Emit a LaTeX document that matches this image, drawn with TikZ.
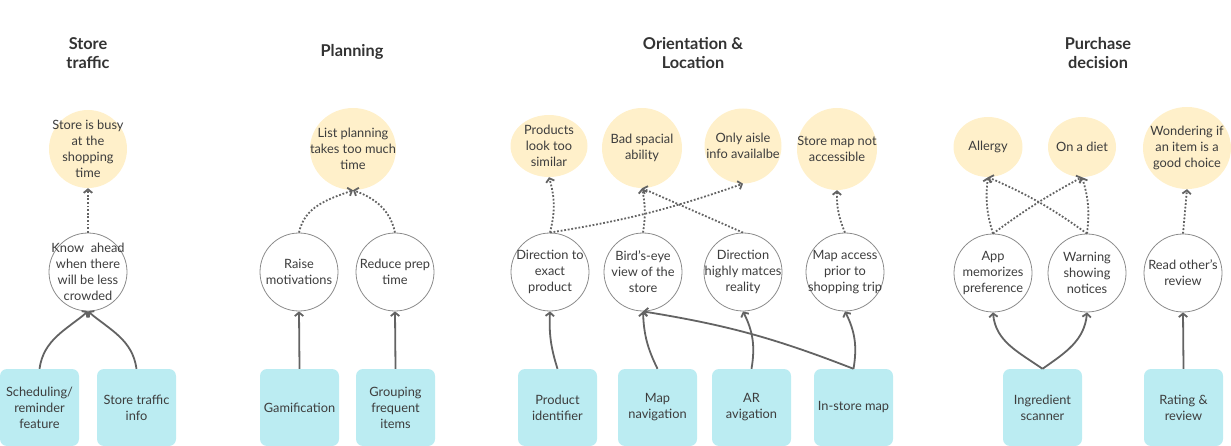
\documentclass[tikz,border=0pt]{standalone}
\usepackage{fontspec}
\setmainfont{Lato}
\usepackage{tikz}
\usetikzlibrary{%
  shapes.geometric,%
  arrows.meta%
}
\definecolor{painfill}{HTML}{FFF0CA}
\definecolor{featfill}{HTML}{BBECF2}
\definecolor{ringcol}{HTML}{8C8C8C}
\definecolor{linkcol}{HTML}{636363}
\definecolor{txtcol}{HTML}{3D3D3D}
\definecolor{titlecol}{HTML}{333333}

\begin{document}
\begin{tikzpicture}[
    x=1pt, y=-1pt,
    title/.style={align=center, text=titlecol, font=\bfseries\fontsize{16.3}{18.5}\selectfont},
    inner/.style={align=center, text=txtcol, font=\fontsize{12.8}{16}\selectfont},
    pain/.style={ellipse, fill=painfill, inner sep=0pt, minimum width=80pt, minimum height=80pt},
    need/.style={circle, draw=ringcol, line width=0.8pt, fill=white, inner sep=0pt, minimum size=78pt},
    feat/.style={rectangle, rounded corners=7pt, fill=featfill, inner sep=0pt, minimum width=79pt,
        minimum height=77pt, align=center, text=txtcol, font=\fontsize{12.8}{16}\selectfont},
    link/.style={draw=linkcol, line width=1.8pt, -{Straight Barb[length=3.5pt,width=8.5pt]}},
    hint/.style={link, dash pattern=on 1.8pt off 1.8pt}
]
    \useasboundingbox (0,0) rectangle (1231,446);
    \node[title] (tst) at (88,53) {Store\\traffic};
    \node[title] (tpl) at (352,52) {Planning};
    \node[title] (tor) at (693,53) {Orientation \&\\Location};
    \node[title] (tpu) at (1098,53) {Purchase\\decision};

    \node[pain, minimum width=78pt, minimum height=78pt, label={[inner]center:Store is busy\\at the\\shopping\\time}] (p1) at (88,149) {};
    \node[pain, minimum width=86pt, minimum height=82pt, label={[inner]center:List planning\\takes too much\\time}] (p2) at (353,149) {};
    \node[pain, minimum width=77pt, minimum height=62pt, label={[inner]center:Products\\look too\\similar}] (p3) at (549,146) {};
    \node[pain, label={[inner]center:Bad spacial\\ability}] (p4) at (642,148) {};
    \node[pain, minimum width=77pt, minimum height=75pt, label={[inner]center:Only aisle\\info availalbe}] (p5) at (743,146) {};
    \node[pain, minimum height=82pt, label={[inner]center:Store map not\\accessible}] (p6) at (837,149) {};
    \node[pain, minimum width=69pt, minimum height=60pt, label={[inner]center:Allergy}] (p7) at (988,147) {};
    \node[pain, minimum width=68pt, minimum height=60pt, label={[inner]center:On a diet}] (p8) at (1082,147) {};
    \node[pain, minimum width=88pt, minimum height=82pt, label={[inner]center:Wondering if\\an item is a\\good choice}] (p9) at (1187,148) {};

    \node[need, label={[inner]center:Know~ ahead\\when there\\will be less\\crowded}] (n1) at (88,272) {};
    \node[need, label={[inner]center:Raise\\motivations}] (n2) at (299,272) {};
    \node[need, label={[inner]center:Reduce prep\\time}] (n3) at (395,272) {};
    \node[need, label={[inner]center:Direction to\\exact\\product}] (n4) at (550,272) {};
    \node[need, label={[inner]center:Bird's-eye\\view of the\\store}] (n5) at (643,272) {};
    \node[need, label={[inner]center:Direction\\highly matces\\reality}] (n6) at (743,272) {};
    \node[need, label={[inner]center:Map access\\prior to\\shopping trip}] (n7) at (845,272) {};
    \node[need, label={[inner]center:App\\memorizes\\preference}] (n8) at (993,273) {};
    \node[need, label={[inner]center:Warning\\showing\\notices}] (n9) at (1087,273) {};
    \node[need, label={[inner]center:Read other's\\review}] (n10) at (1183,273) {};

    \node[feat] (f1) at (39.5,407.5) {Scheduling/\\reminder\\feature};
    \node[feat] (f2) at (136.5,407.5) {Store traffic\\info};
    \node[feat] (f3) at (299.5,407.5) {Gamification};
    \node[feat] (f4) at (395.5,407.5) {Grouping\\frequent\\items};
    \node[feat] (f5) at (557.5,407.5) {Product\\identifier};
    \node[feat] (f6) at (657.5,407.5) {Map\\navigation};
    \node[feat] (f7) at (751.5,407.5) {AR\\avigation};
    \node[feat] (f8) at (853.5,407.5) {In-store map};
    \node[feat] (f9) at (1042.5,407.5) {Ingredient\\scanner};
    \node[feat] (f10) at (1183.5,407.5) {Rating \&\\review};

    \path (f1.north) edge[link, out=82, in=220] (n1.south);
    \path (f2.north) edge[link, out=98, in=-40] (n1.south);
    \path (f3.north) edge[link] (n2.south);
    \path (f4.north) edge[link] (n3.south);
    \path (f5.north) edge[link, bend left=10] (n4.south);
    \path (f6.north) edge[link, bend left=12] (n5.south);
    \path (f7.north) edge[link, bend right=18] (n6.south);
    \path (f8.north) edge[link, bend right=18] (n7.south);
    \path (f8.north) edge[link, bend right=6] (n5.south);
    \path (f9.north) edge[link, out=145, in=-85] (n8.south);
    \path (f9.north) edge[link, out=35, in=-95] (n9.south);
    \path (f10.north) edge[link] (n10.south);

    \path (n1.north) edge[hint] (p1.south);
    \path (n2.north) edge[hint, out=78, in=200] (p2.south);
    \path (n3.north) edge[hint, out=102, in=-20] (p2.south);
    \path (n4.north) edge[hint, bend right=15] (p3.south);
    \path (n4.north) edge[hint, bend right=5] (p5.south);
    \path (n5.north) edge[hint, bend right=10] (p4.south);
    \path (n6.north) edge[hint] (p4.south);
    \path (n7.north) edge[hint, bend left=12] (p6.south);
    \path (n8.north) edge[hint, bend left=12] (p7.south);
    \path (n8.north) edge[hint, bend left=4] (p8.south);
    \path (n9.north) edge[hint, bend right=12] (p8.south);
    \path (n9.north) edge[hint, bend right=6] (p7.south);
    \path (n10.north) edge[hint] (p9.south);
\end{tikzpicture}
\end{document}
